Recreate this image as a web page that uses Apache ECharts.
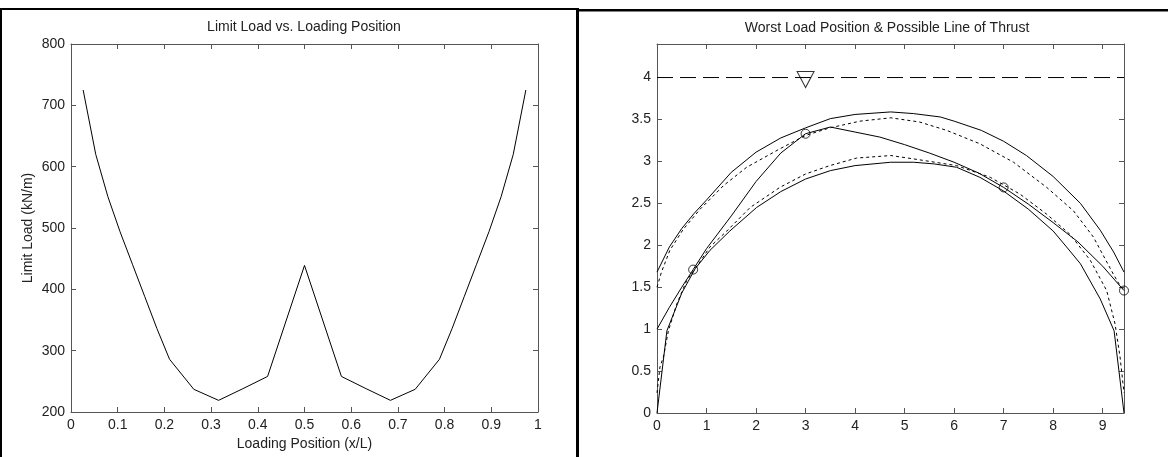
<!DOCTYPE html>
<html>
<head>
<meta charset="utf-8">
<script src="https://cdn.jsdelivr.net/npm/echarts@6/dist/echarts.min.js"></script>
<style>
  html, body { margin: 0; padding: 0; background: #fff; }
  #chart { width: 1168px; height: 457px; }
</style>
</head>
<body>
<div id="chart"></div>
<script>
// ---- Limit load vs. loading position ----
const loadPos = [0.026, 0.053, 0.079, 0.105, 0.132, 0.158, 0.184, 0.211, 0.263, 0.316, 0.368, 0.421, 0.5,
                 0.579, 0.632, 0.684, 0.737, 0.789, 0.816, 0.842, 0.868, 0.895, 0.921, 0.947, 0.974];
const limitLoad = [725, 620, 551, 494, 440, 388, 336, 286, 237, 219, 238, 258, 439,
                   258, 238, 219, 237, 286, 336, 388, 440, 494, 551, 620, 725];

// ---- Arch geometry (span ~9.43) ----
const extradosX = [0, 0.25, 0.5, 0.75, 1.0, 1.5, 2.0, 2.5, 3.0, 3.5, 4.0, 4.72, 5.18, 5.72, 6.0, 6.55, 7.0, 7.46, 8.0, 8.55, 8.95, 9.22, 9.43];
const extradosY = [1.68, 1.98, 2.2, 2.38, 2.54, 2.87, 3.11, 3.28, 3.40, 3.51, 3.56, 3.59, 3.57, 3.53, 3.48, 3.37, 3.24, 3.07, 2.82, 2.5, 2.18, 1.92, 1.68];

const intradosX = [0, 0.2, 0.5, 0.77, 1.07, 1.47, 2.01, 2.5, 3.0, 3.5, 4.0, 4.72, 5.18, 5.6, 6.05, 6.52, 6.99, 7.5, 8.0, 8.27, 8.55, 8.95, 9.23, 9.43];
const intradosY = [0, 0.98, 1.43, 1.72, 1.94, 2.17, 2.45, 2.64, 2.79, 2.89, 2.95, 2.99, 2.99, 2.97, 2.93, 2.81, 2.65, 2.43, 2.17, 1.98, 1.78, 1.36, 0.98, 0];

const upperLimitX = [0, 0.09, 0.26, 0.53, 0.87, 1.34, 1.81, 2.48, 3.0, 3.49, 4.1, 4.72, 5.3, 5.85, 6.52, 7.2, 7.87, 8.41, 8.81, 9.22, 9.35, 9.43];
const upperLimitY = [1.5, 1.68, 1.94, 2.19, 2.43, 2.71, 2.93, 3.15, 3.31, 3.40, 3.48, 3.52, 3.47, 3.37, 3.21, 2.99, 2.69, 2.41, 2.10, 1.65, 1.52, 1.47];

const lowerLimitX = [0, 0.06, 0.13, 0.23, 0.4, 0.6, 0.84, 1.07, 1.41, 1.88, 2.48, 3.0, 3.49, 4.03, 4.72, 5.18, 6.05, 6.73, 7.33, 7.87, 8.34, 8.75, 9.08, 9.25, 9.35, 9.43];
const lowerLimitY = [0.24, 0.55, 0.67, 0.98, 1.30, 1.58, 1.78, 1.98, 2.17, 2.45, 2.69, 2.85, 2.95, 3.04, 3.07, 3.03, 2.95, 2.81, 2.61, 2.37, 2.13, 1.82, 1.46, 1.06, 0.67, 0.24];

const thrustX = [0, 0.25, 0.5, 0.73, 1.0, 1.5, 2.0, 2.5, 3.0, 3.5, 4.0, 4.5, 5.0, 5.5, 6.0, 6.5, 7.0, 7.5, 8.0, 8.5, 9.0, 9.43];
const thrustY = [1.0, 1.26, 1.50, 1.71, 1.96, 2.35, 2.76, 3.10, 3.33, 3.41, 3.35, 3.29, 3.20, 3.10, 2.99, 2.86, 2.69, 2.49, 2.27, 2.04, 1.75, 1.46];

const hingeX = [0.73, 3.0, 7.0, 9.43];
const hingeY = [1.71, 3.33, 2.69, 1.46];

const loadX = [3.0];
const loadY = [4.0];
const loadLineX = [0, 9.43];
const loadLineY = [4.0, 4.0];

const zip = (xs, ys) => xs.map((x, i) => [x, ys[i]]);

const FONT = 'Liberation Sans, Arial, sans-serif';
const FONT_SIZE = 14;
const AXIS_COLOR = '#555';
const TEXT_COLOR = '#222';

// One side of a boxed axis; the label flag also decides whether the max tick gets a label.
function boxAxis(gridIndex, position, min, max, interval, showLabel, labelMax, extra) {
  return Object.assign({
    type: 'value', gridIndex, position, min, max, interval,
    axisLine: { show: true, onZero: false, lineStyle: { color: AXIS_COLOR, width: 1 } },
    axisTick: { show: true, inside: true, length: 5, lineStyle: { color: AXIS_COLOR } },
    splitLine: { show: false },
    axisLabel: {
      show: showLabel, color: TEXT_COLOR, fontFamily: FONT, fontSize: FONT_SIZE,
      margin: 6, showMinLabel: true, showMaxLabel: labelMax
    }
  }, extra || {});
}

const chart = echarts.init(document.getElementById('chart'), null, { renderer: 'canvas' });

const lineBase = { type: 'line', showSymbol: false, symbol: 'none', animation: false, silent: true };
const nameStyle = { color: TEXT_COLOR, fontFamily: FONT, fontSize: FONT_SIZE };

chart.setOption({
  animation: false,
  backgroundColor: '#ffffff',
  grid: [
    { left: 71, top: 44, width: 467, height: 368 },
    { left: 657, top: 44, width: 467, height: 369 }
  ],
  xAxis: [
    boxAxis(0, 'bottom', 0, 1, 0.1, true, true, {
      name: 'Loading Position (x/L)', nameLocation: 'middle', nameGap: 23, nameTextStyle: nameStyle
    }),
    boxAxis(0, 'top', 0, 1, 0.1, false, false),
    boxAxis(1, 'bottom', 0, 9.43, 1, true, false),
    boxAxis(1, 'top', 0, 9.43, 1, false, false)
  ],
  yAxis: [
    boxAxis(0, 'left', 200, 800, 100, true, true, {
      name: 'Limit Load (kN/m)', nameLocation: 'middle', nameGap: 36, nameTextStyle: nameStyle
    }),
    boxAxis(0, 'right', 200, 800, 100, false, false),
    boxAxis(1, 'left', 0, 4.4, 0.5, true, false),
    boxAxis(1, 'right', 0, 4.4, 0.5, false, false)
  ],
  series: [
    Object.assign({}, lineBase, {
      name: 'Limit Load', xAxisIndex: 0, yAxisIndex: 0,
      data: zip(loadPos, limitLoad), lineStyle: { color: '#000', width: 1 }
    }),
    Object.assign({}, lineBase, {
      name: 'Extrados', xAxisIndex: 2, yAxisIndex: 2,
      data: zip(extradosX, extradosY), lineStyle: { color: '#000', width: 1 }
    }),
    Object.assign({}, lineBase, {
      name: 'Intrados', xAxisIndex: 2, yAxisIndex: 2,
      data: zip(intradosX, intradosY), lineStyle: { color: '#000', width: 1 }
    }),
    Object.assign({}, lineBase, {
      name: 'Upper limit', xAxisIndex: 2, yAxisIndex: 2,
      data: zip(upperLimitX, upperLimitY), lineStyle: { color: '#000', width: 1, type: [3, 3] }
    }),
    Object.assign({}, lineBase, {
      name: 'Lower limit', xAxisIndex: 2, yAxisIndex: 2,
      data: zip(lowerLimitX, lowerLimitY), lineStyle: { color: '#000', width: 1, type: [3, 3] }
    }),
    Object.assign({}, lineBase, {
      name: 'Line of thrust', xAxisIndex: 2, yAxisIndex: 2,
      data: zip(thrustX, thrustY), lineStyle: { color: '#000', width: 1 }
    }),
    Object.assign({}, lineBase, {
      name: 'Load level', xAxisIndex: 2, yAxisIndex: 2,
      data: zip(loadLineX, loadLineY), lineStyle: { color: '#000', width: 1, type: [16, 7] }
    }),
    {
      type: 'scatter', name: 'Hinges', xAxisIndex: 2, yAxisIndex: 2, silent: true,
      data: zip(hingeX, hingeY), symbol: 'circle', symbolSize: 9,
      itemStyle: { color: 'rgba(0,0,0,0)', borderColor: '#000', borderWidth: 1 }
    },
    {
      type: 'scatter', name: 'Load', xAxisIndex: 2, yAxisIndex: 2, silent: true,
      data: zip(loadX, loadY), symbol: 'triangle', symbolRotate: 180, symbolSize: [17, 16],
      symbolOffset: [0, 2],
      itemStyle: { color: 'rgba(0,0,0,0)', borderColor: '#000', borderWidth: 1 }
    }
  ],
  graphic: [
    // panel frames
    { type: 'rect', shape: { x: 0, y: 8, width: 2, height: 449 }, style: { fill: '#000' }, silent: true },
    { type: 'rect', shape: { x: 0, y: 8, width: 578, height: 2 }, style: { fill: '#000' }, silent: true },
    { type: 'rect', shape: { x: 576, y: 8, width: 3, height: 449 }, style: { fill: '#000' }, silent: true },
    { type: 'rect', shape: { x: 576, y: 9, width: 592, height: 2.5 }, style: { fill: '#000' }, silent: true },
    // panel titles
    { type: 'text', x: 304, y: 27, silent: true,
      style: { text: 'Limit Load vs. Loading Position', fill: TEXT_COLOR, font: FONT_SIZE + 'px ' + FONT,
               textAlign: 'center', textVerticalAlign: 'middle' } },
    { type: 'text', x: 887, y: 28, silent: true,
      style: { text: 'Worst Load Position & Possible Line of Thrust', fill: TEXT_COLOR, font: FONT_SIZE + 'px ' + FONT,
               textAlign: 'center', textVerticalAlign: 'middle' } }
  ]
});
</script>
</body>
</html>
